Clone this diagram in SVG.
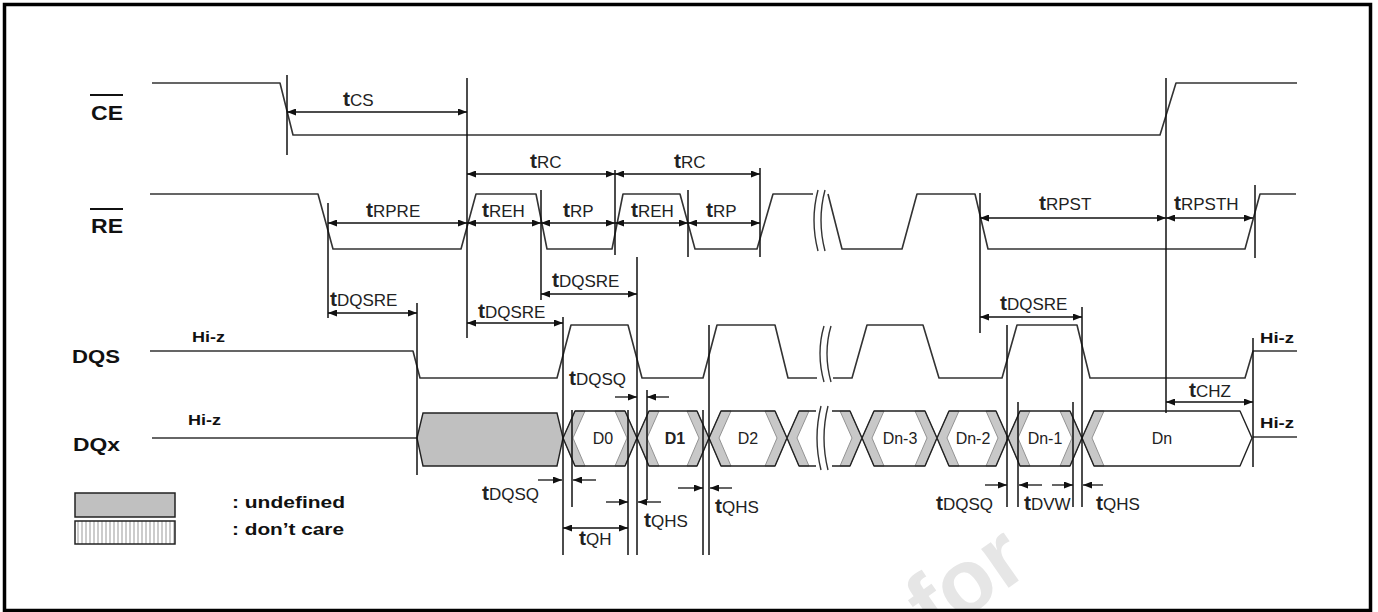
<svg xmlns="http://www.w3.org/2000/svg" width="1378" height="612" viewBox="0 0 1378 612">
<defs>
<marker id="ah" viewBox="0 0 9 7" refX="9" refY="3.5" markerWidth="9" markerHeight="7" markerUnits="userSpaceOnUse" orient="auto-start-reverse"><path d="M0,0 L9,3.5 L0,7 z" fill="#111"/></marker>
<pattern id="hatch" width="4" height="10" patternUnits="userSpaceOnUse"><rect width="4" height="10" fill="#fff"/><line x1="2" y1="0" x2="2" y2="10" stroke="#9a9a9a" stroke-width="1"/></pattern>
</defs>
<style>
.sig{fill:none;stroke:#333;stroke-width:1.6;stroke-linejoin:round}
.brk{fill:none;stroke:#333;stroke-width:1.4}
.vl{stroke:#111;stroke-width:1.5}
.dim{stroke:#111;stroke-width:1.3;marker-start:url(#ah);marker-end:url(#ah)}
.one{stroke:#111;stroke-width:1.3;marker-end:url(#ah)}
.lbl{font-family:"Liberation Sans",Arial,sans-serif;font-weight:bold;fill:#111}
.tm{font-family:"Liberation Sans",Arial,sans-serif;font-size:17px;fill:#222}
.tb{font-weight:bold;font-size:21px}
.dt{font-family:"Liberation Sans",Arial,sans-serif;font-size:16px;fill:#222;text-anchor:middle}
.band{fill:#c8c8c8;stroke:#8a8a8a;stroke-width:0.9}
.cell{fill:none;stroke:#222;stroke-width:1.4;stroke-linejoin:round}
.hz{font-family:"Liberation Sans",Arial,sans-serif;font-weight:bold;font-size:15px;fill:#111}
</style>
<rect x="0" y="0" width="1378" height="612" fill="#fff"/>
<text x="934" y="640" transform="rotate(-35 934 640)" font-family="Liberation Sans, Arial, sans-serif" font-weight="bold" font-size="90" fill="#e6e6e6">for</text>

<g id="labels">
<text class="lbl" x="91" y="120" font-size="20" textLength="32" lengthAdjust="spacingAndGlyphs">CE</text>
<line x1="90" y1="95" x2="123" y2="95" stroke="#111" stroke-width="2"/>
<text class="lbl" x="91" y="233" font-size="20" textLength="32" lengthAdjust="spacingAndGlyphs">RE</text>
<line x1="90" y1="209" x2="123" y2="209" stroke="#111" stroke-width="2"/>
<text class="lbl" x="72" y="363" font-size="19" textLength="48" lengthAdjust="spacingAndGlyphs">DQS</text>
<text class="lbl" x="73" y="451" font-size="19" textLength="47" lengthAdjust="spacingAndGlyphs">DQx</text>
<text class="hz" x="192" y="342" textLength="33" lengthAdjust="spacingAndGlyphs">Hi-z</text>
<text class="hz" x="188" y="425" textLength="33" lengthAdjust="spacingAndGlyphs">Hi-z</text>
<text class="hz" x="1260" y="343" textLength="34" lengthAdjust="spacingAndGlyphs">Hi-z</text>
<text class="hz" x="1260" y="428" textLength="34" lengthAdjust="spacingAndGlyphs">Hi-z</text>
</g>

<g id="sig-ce">
<polyline class="sig" points="152,83 280,83 293,135 1160,135 1176,83 1297,83"/>
</g>

<g id="sig-re">
<polyline class="sig" points="150,194 318,194 333,249 461,249 476,194 536,194 547,249 612,249 623,194 680,194 695,249 757,249 773,194 813,194"/>
<polyline class="sig" points="828,194 842,249 902,249 917,194 975,194 988,249 1245,249 1260,194 1296,194"/>
<path class="brk" d="M818,190 Q810,220 818,251"/>
<path class="brk" d="M825,190 Q817,220 825,251"/>
</g>

<g id="sig-dqs">
<polyline class="sig" points="150,351 413,351 420,378 557,378 571,325 628,325 642,378 703,378 717,325 775,325 788,378 817,378"/>
<polyline class="sig" points="833,378 852,378 867,325 923,325 939,378 1002,378 1017,325 1077,325 1090,378 1245,378 1253,351 1297,351"/>
<path class="brk" d="M824,326 Q816,353 824,382"/>
<path class="brk" d="M831,326 Q823,353 831,382"/>
</g>

<g id="sig-dqx">
<line class="sig" x1="152" y1="438" x2="417" y2="438"/>
<polygon points="417,438 423,413 557,413 563,438 557,466 423,466" fill="#c0c0c0" stroke="#222" stroke-width="1.4"/>
<g id="cell-d0">
<polygon class="band" points="563,438 575,411 585,411 573,438 585,466 575,466"/>
<polygon class="band" points="637,438 625,411 615,411 627,438 615,466 625,466"/>
<polygon class="cell" points="563,438 575,411 625,411 637,438 625,466 575,466"/>
<text class="dt" x="603" y="444">D0</text>
</g>
<g id="cell-d1">
<polygon class="band" points="637,438 649,411 659,411 647,438 659,466 649,466"/>
<polygon class="band" points="709,438 697,411 687,411 699,438 687,466 697,466"/>
<polygon class="cell" points="637,438 649,411 697,411 709,438 697,466 649,466"/>
<text class="dt" x="675" y="444" font-weight="bold">D1</text>
</g>
<g id="cell-d2">
<polygon class="band" points="709,438 721,411 731,411 719,438 731,466 721,466"/>
<polygon class="band" points="787,438 775,411 765,411 777,438 765,466 775,466"/>
<polygon class="cell" points="709,438 721,411 775,411 787,438 775,466 721,466"/>
<text class="dt" x="748" y="444">D2</text>
</g>
<g id="cell-gap">
<polygon class="band" points="787,438 799,411 809,411 797,438 809,466 799,466"/>
<path class="cell" d="M816,411 L799,411 L787,438 L799,466 L816,466"/>
<polygon class="band" points="862,438 850,411 840,411 852,438 840,466 850,466"/>
<path class="cell" d="M832,411 L850,411 L862,438 L850,466 L832,466"/>
<path class="brk" d="M821,406 Q813,438 821,470"/>
<path class="brk" d="M828,406 Q820,438 828,470"/>
</g>
<g id="cell-dn3">
<polygon class="band" points="862,438 874,411 884,411 872,438 884,466 874,466"/>
<polygon class="band" points="937,438 925,411 915,411 927,438 915,466 925,466"/>
<polygon class="cell" points="862,438 874,411 925,411 937,438 925,466 874,466"/>
<text class="dt" x="900" y="444">Dn-3</text>
</g>
<g id="cell-dn2">
<polygon class="band" points="937,438 949,411 959,411 947,438 959,466 949,466"/>
<polygon class="band" points="1008,438 996,411 986,411 998,438 986,466 996,466"/>
<polygon class="cell" points="937,438 949,411 996,411 1008,438 996,466 949,466"/>
<text class="dt" x="973" y="444">Dn-2</text>
</g>
<g id="cell-dn1">
<polygon class="band" points="1008,438 1020,411 1030,411 1018,438 1030,466 1020,466"/>
<polygon class="band" points="1082,438 1070,411 1060,411 1072,438 1060,466 1070,466"/>
<polygon class="cell" points="1008,438 1020,411 1070,411 1082,438 1070,466 1020,466"/>
<text class="dt" x="1045" y="444">Dn-1</text>
</g>
<g id="cell-dn">
<polygon class="band" points="1082,438 1094,411 1104,411 1092,438 1104,466 1094,466"/>
<polygon class="cell" points="1082,438 1094,411 1240,411 1252,438 1240,466 1094,466"/>
<text class="dt" x="1162" y="444">Dn</text>
</g>
<line class="sig" x1="1253" y1="437" x2="1297" y2="437"/>
</g>

<g id="legend">
<rect x="75" y="493" width="100" height="24" fill="#c0c0c0" stroke="#222" stroke-width="1.5"/>
<rect x="75" y="521" width="100" height="23" fill="url(#hatch)" stroke="#222" stroke-width="1.5"/>
<text class="lbl" x="232" y="508" font-size="17" textLength="113" lengthAdjust="spacingAndGlyphs">: undefined</text>
<text class="lbl" x="232" y="535" font-size="17" textLength="112" lengthAdjust="spacingAndGlyphs">: don’t care</text>
</g>

<g id="connectors">
<g id="ref-lines">
<line class="vl" x1="287" y1="75" x2="287" y2="155"/>
<line class="vl" x1="467" y1="78" x2="467" y2="338"/>
<line class="vl" x1="328" y1="203" x2="328" y2="318"/>
<line class="vl" x1="541" y1="190" x2="541" y2="300"/>
<line class="vl" x1="615" y1="170" x2="615" y2="255"/>
<line class="vl" x1="688" y1="190" x2="688" y2="257"/>
<line class="vl" x1="760" y1="168" x2="760" y2="257"/>
<line class="vl" x1="637" y1="257" x2="637" y2="555"/>
<line class="vl" x1="563" y1="317" x2="563" y2="555"/>
<line class="vl" x1="417" y1="303" x2="417" y2="475"/>
<line class="vl" x1="980" y1="193" x2="980" y2="333"/>
<line class="vl" x1="1166" y1="78" x2="1166" y2="413"/>
<line class="vl" x1="1255" y1="185" x2="1255" y2="258"/>
<line class="vl" x1="1082" y1="307" x2="1082" y2="507"/>
<line class="vl" x1="1007" y1="325" x2="1007" y2="507"/>
<line class="vl" x1="1018" y1="402" x2="1018" y2="507"/>
<line class="vl" x1="1073" y1="402" x2="1073" y2="507"/>
<line class="vl" x1="1253" y1="338" x2="1253" y2="467"/>
<line class="vl" x1="572" y1="410" x2="572" y2="507"/>
<line class="vl" x1="628" y1="410" x2="628" y2="555"/>
<line class="vl" x1="647" y1="390" x2="647" y2="500"/>
<line class="vl" x1="703" y1="410" x2="703" y2="555"/>
<line class="vl" x1="709" y1="325" x2="709" y2="555"/>
</g>
<g id="dims">
<line class="dim" x1="287" y1="112" x2="467" y2="112"/>
<line class="dim" x1="467" y1="174" x2="615" y2="174"/>
<line class="dim" x1="615" y1="174" x2="760" y2="174"/>
<line class="dim" x1="328" y1="223" x2="467" y2="223"/>
<line class="dim" x1="467" y1="223" x2="541" y2="223"/>
<line class="dim" x1="541" y1="223" x2="615" y2="223"/>
<line class="dim" x1="615" y1="223" x2="688" y2="223"/>
<line class="dim" x1="688" y1="223" x2="760" y2="223"/>
<line class="dim" x1="980" y1="218" x2="1166" y2="218"/>
<line class="dim" x1="1166" y1="218" x2="1253" y2="218"/>
<line class="dim" x1="328" y1="313" x2="417" y2="313"/>
<line class="dim" x1="541" y1="294" x2="637" y2="294"/>
<line class="dim" x1="467" y1="323" x2="563" y2="323"/>
<line class="dim" x1="980" y1="317" x2="1082" y2="317"/>
<line class="dim" x1="1166" y1="402" x2="1253" y2="402"/>
<line class="dim" x1="563" y1="528" x2="628" y2="528"/>
<line class="one" x1="615" y1="397" x2="637" y2="397"/>
<line class="one" x1="669" y1="397" x2="647" y2="397"/>
<line class="one" x1="538" y1="480" x2="562" y2="480"/>
<line class="one" x1="596" y1="480" x2="573" y2="480"/>
<line class="one" x1="606" y1="502" x2="628" y2="502"/>
<line class="one" x1="661" y1="502" x2="638" y2="502"/>
<line class="one" x1="678" y1="488" x2="703" y2="488"/>
<line class="one" x1="732" y1="488" x2="710" y2="488"/>
<line class="one" x1="985" y1="485" x2="1007" y2="485"/>
<line class="one" x1="1042" y1="485" x2="1019" y2="485"/>
<line class="one" x1="1052" y1="485" x2="1073" y2="485"/>
<line class="one" x1="1103" y1="485" x2="1083" y2="485"/>
</g>
<g id="timing-labels">
<text class="tm" x="343" y="106"><tspan class="tb">t</tspan>CS</text>
<text class="tm" x="530" y="168"><tspan class="tb">t</tspan>RC</text>
<text class="tm" x="674" y="168"><tspan class="tb">t</tspan>RC</text>
<text class="tm" x="366" y="217"><tspan class="tb">t</tspan>RPRE</text>
<text class="tm" x="482" y="217"><tspan class="tb">t</tspan>REH</text>
<text class="tm" x="563" y="217"><tspan class="tb">t</tspan>RP</text>
<text class="tm" x="631" y="217"><tspan class="tb">t</tspan>REH</text>
<text class="tm" x="706" y="217"><tspan class="tb">t</tspan>RP</text>
<text class="tm" x="1039" y="210"><tspan class="tb">t</tspan>RPST</text>
<text class="tm" x="1174" y="210"><tspan class="tb">t</tspan>RPSTH</text>
<text class="tm" x="330" y="306"><tspan class="tb">t</tspan>DQSRE</text>
<text class="tm" x="552" y="287"><tspan class="tb">t</tspan>DQSRE</text>
<text class="tm" x="478" y="318"><tspan class="tb">t</tspan>DQSRE</text>
<text class="tm" x="1000" y="310"><tspan class="tb">t</tspan>DQSRE</text>
<text class="tm" x="569" y="385"><tspan class="tb">t</tspan>DQSQ</text>
<text class="tm" x="482" y="500"><tspan class="tb">t</tspan>DQSQ</text>
<text class="tm" x="579" y="545"><tspan class="tb">t</tspan>QH</text>
<text class="tm" x="644" y="527"><tspan class="tb">t</tspan>QHS</text>
<text class="tm" x="715" y="513"><tspan class="tb">t</tspan>QHS</text>
<text class="tm" x="936" y="510"><tspan class="tb">t</tspan>DQSQ</text>
<text class="tm" x="1024" y="510"><tspan class="tb">t</tspan>DVW</text>
<text class="tm" x="1096" y="510"><tspan class="tb">t</tspan>QHS</text>
<text class="tm" x="1189" y="397"><tspan class="tb">t</tspan>CHZ</text>
</g>
</g>

<rect x="4.5" y="4.5" width="1366" height="606" fill="none" stroke="#000" stroke-width="3.5"/>
</svg>
